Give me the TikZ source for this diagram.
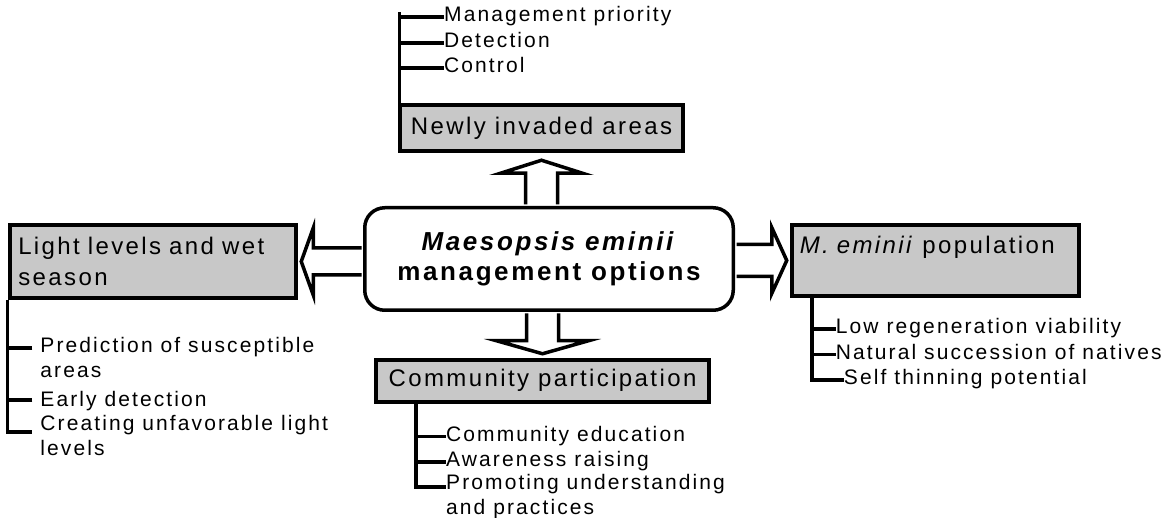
\documentclass[tikz,border=0pt]{standalone}
\usepackage{fontspec}
\setmainfont{Liberation Sans}[LetterSpace=10]
\usepackage{tikz}
\usetikzlibrary{positioning,calc}
\definecolor{boxgray}{RGB}{200,200,200}

\begin{document}
\begin{tikzpicture}[
  x=1pt, y=1pt,
  hub/.style={draw, line width=3.5pt, rounded corners=20pt, fill=white, align=center, minimum width=368.5pt, minimum height=102.5pt, font=\fontsize{26pt}{30pt}\selectfont\bfseries},
  topic/.style={draw, line width=4pt, fill=boxgray, inner ysep=0pt, inner xsep=8pt, font=\fontsize{24pt}{31pt}\selectfont},
  item/.style={inner sep=0pt, align=left, font=\fontsize{21pt}{25pt}\selectfont, execute at begin node=\strut},
  fat/.style={draw, line width=3.5pt, fill=white, line join=miter},
  rail/.style={line width=3.5pt}
]
\path[use as bounding box, fill=white] (0,0) rectangle (1173,-518);

\node[hub] (hub) at (549,-259) {\textit{Maesopsis eminii}\\management options};
\node[topic, minimum width=283pt, minimum height=46pt, above=52.75pt of hub, xshift=-7.5pt] (newly) {Newly invaded areas};
\node[topic, minimum width=286pt, minimum height=73pt, text width=270pt, align=left, left=64.75pt of hub, yshift=-2.5pt] (light) {Light levels and wet\\season};
\node[topic, minimum width=287pt, minimum height=71pt, text width=271pt, align=left, right=54.75pt of hub, yshift=-1.5pt] (pop) {\textit{M. eminii} population\\\mbox{}};
\node[topic, minimum width=333pt, minimum height=42pt, below=45.75pt of hub, xshift=-6.5pt] (comm) {Community participation};

\node[item, above right=99pt and 46pt of newly.north west, anchor=north west] (n1) {Management priority};
\node[item, above right=73pt and 46pt of newly.north west, anchor=north west] (n2) {Detection};
\node[item, above right=48pt and 46pt of newly.north west, anchor=north west] (n3) {Control};

\node[item, below right=37pt and 32pt of light.south west] (l1) {Prediction of susceptible\\areas};
\node[item, below right=89pt and 32pt of light.south west] (l2) {Early detection};
\node[item, below right=115pt and 32pt of light.south west] (l3) {Creating unfavorable light\\levels};

\node[item, below right=18pt and 46pt of pop.south west] (p1) {Low regeneration viability};
\node[item, below right=43.5pt and 46pt of pop.south west] (p2) {Natural succession of natives};
\node[item, below right=69pt and 54pt of pop.south west] (p3) {Self thinning potential};

\node[item, below right=20pt and 72pt of comm.south west] (c1) {Community education};
\node[item, below right=45pt and 72pt of comm.south west] (c2) {Awareness raising};
\node[item, below right=70pt and 72pt of comm.south west] (c3) {Promoting understanding\\and practices};

\draw[fat] ($(newly.south |- hub.north)+(-16,1.5)$) |- ($(newly.south)+(-41,-20)$) -- ($(newly.south)+(0,-7)$) -- ($(newly.south)+(41,-20)$) -| ($(newly.south |- hub.north)+(16,1.5)$);
\draw[fat] ($(comm.north |- hub.south)+(-16,-1.5)$) |- ($(comm.north)+(-46,17)$) -- ($(comm.north)+(0,4)$) -- ($(comm.north)+(46,17)$) -| ($(comm.north |- hub.south)+(16,-1.5)$);
\draw[fat] ($(light.east -| hub.west)+(-1.5,13.5)$) -| ($(light.east)+(15,33.5)$) -- ($(light.east)+(3,0)$) -- ($(light.east)+(15,-33.5)$) |- ($(light.east -| hub.west)+(-1.5,-13.5)$);
\draw[fat] ($(pop.west -| hub.east)+(1.5,16)$) -| ($(pop.west)+(-18,33)$) -- ($(pop.west)+(-3,0)$) -- ($(pop.west)+(-18,-33)$) |- ($(pop.west -| hub.east)+(1.5,-16)$);

\draw[rail] ([xshift=1.5pt]newly.north west) -- ++(0,91);
\foreach \i in {1,2,3}
  \draw[rail] ([yshift=-13pt]n\i.north west) -- ++(-44.5,0);
\draw[rail, shorten >=8pt] ([xshift=-1pt]light.south west) |- ([yshift=-17pt]l3.north west);
\foreach \i in {1,2}
  \draw[rail, shorten <=8pt] ([yshift=-11pt]l\i.north west) -- ++(-33,0);
\draw[rail] ([xshift=22pt]pop.south west) |- ([yshift=-13pt]p3.north west);
\foreach \i in {1,2}
  \draw[rail] ([yshift=-13pt]p\i.north west) -- ++(-24,0);
\draw[rail] ([xshift=42pt]comm.south west) |- ([yshift=-13pt]c3.north west);
\foreach \i in {1,2}
  \draw[rail] ([yshift=-13pt]c\i.north west) -- ++(-30,0);
\end{tikzpicture}
\end{document}
